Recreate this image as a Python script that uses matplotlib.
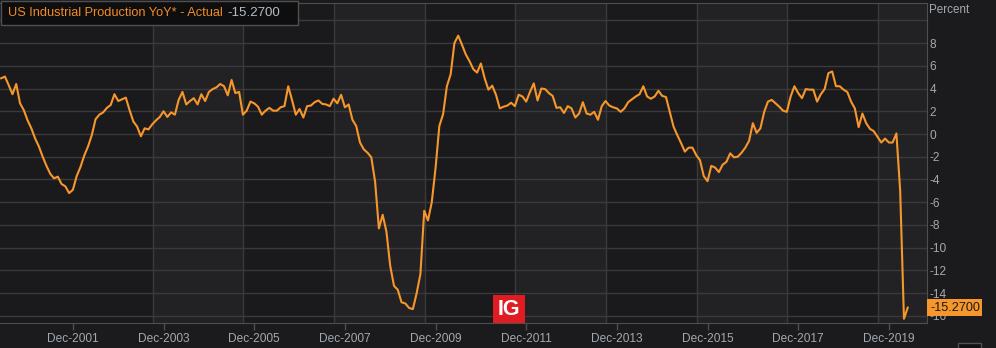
"""US industrial production YoY, dark terminal-style chart."""

import matplotlib
matplotlib.use("Agg")
import matplotlib.pyplot as plt
from matplotlib.patches import Rectangle
import numpy as np

# ── Data: monthly YoY %, May 2000 .. May 2020 ─────────────────────────
START_YEAR, START_MONTH = 2000, 5
yoy = [
    4.9, 5.05, 4.3, 3.5, 4.4, 2.7, 2.1, 1.2, 0.5, -0.4,
    -1.1, -2.0, -2.8, -3.5, -3.9, -3.75, -4.4, -4.6, -5.2, -4.9,
    -3.7, -2.9, -1.9, -1.1, -0.1, 1.3, 1.7, 1.9, 2.3, 2.55,
    3.5, 2.9, 3.05, 3.2, 2.1, 1.1, 0.65, -0.2, 0.5, 0.4,
    0.85, 1.2, 1.5, 2.0, 1.5, 1.9, 1.7, 3.0, 3.7, 2.6,
    2.9, 3.15, 2.6, 3.5, 2.9, 3.7, 3.95, 4.1, 4.4, 4.2,
    3.4, 4.75, 3.6, 3.7, 1.7, 2.05, 2.85, 2.7, 2.4, 1.7,
    2.05, 2.3, 2.05, 2.05, 2.35, 2.45, 4.2, 3.0, 1.7, 2.2,
    1.45, 2.45, 2.5, 2.8, 2.95, 2.65, 2.6, 2.45, 3.1, 2.7,
    3.45, 2.35, 2.6, 1.25, 0.7, -0.75, -1.35, -1.65, -2.05, -4.2,
    -8.3, -7.1, -8.6, -11.6, -13.35, -13.7, -14.8, -14.9, -15.3, -15.4,
    -14.0, -12.3, -6.75, -7.6, -6.0, -3.0, 0.7, 1.75, 4.2, 5.25,
    8.0, 8.65, 7.85, 7.0, 6.4, 5.7, 5.4, 6.2, 4.9, 3.9,
    4.25, 3.45, 2.25, 2.4, 2.5, 2.75, 2.45, 3.45, 3.3, 2.85,
    3.7, 4.45, 2.95, 4.0, 3.95, 3.6, 3.35, 2.3, 2.35, 1.85,
    2.45, 2.25, 1.45, 1.8, 2.8, 1.8, 1.7, 1.95, 1.25, 2.45,
    2.9, 2.5, 2.35, 2.25, 1.95, 2.25, 2.8, 3.05, 3.3, 3.5,
    4.2, 3.3, 3.1, 3.3, 3.8, 3.35, 3.25, 1.95, 0.65, -0.1,
    -0.8, -1.55, -1.2, -1.2, -1.85, -2.3, -3.7, -4.15, -2.8, -2.95,
    -3.35, -2.7, -2.45, -1.7, -2.05, -2.0, -1.65, -1.2, -0.6, 0.95,
    0.1, 0.5, 1.95, 2.85, 3.0, 2.7, 2.4, 2.05, 1.95, 3.3,
    4.2, 3.6, 3.15, 3.95, 3.9, 3.9, 2.85, 3.5, 3.95, 5.35,
    5.5, 4.2, 4.2, 3.9, 3.7, 2.85, 2.25, 0.6, 1.8, 0.95,
    0.45, 0.25, -0.25, -0.75, -0.4, -0.75, -0.75, 0.05, -5.0, -16.25,
    -15.27,
]
tick_years = [2001, 2003, 2005, 2007, 2009, 2011, 2013, 2015, 2017, 2019]
tick_labels = [f"Dec-{y}" for y in tick_years]
y_ticks = [8, 6, 4, 2, 0, -2, -4, -6, -8, -10, -12, -14, -16]
series_name = "US Industrial Production YoY* - Actual"
last_value = yoy[-1]

# ── Style ─────────────────────────────────────────────────────────────
W, H = 996, 348
BG = "#1b1b1d"
BAND_DARK = "#1a1a1c"
BAND_LIGHT = "#222224"
GRID = "#3a3a3c"
SPINE = "#4e4e50"
LINE = "#f7962a"
TXT = "#a3a9b0"
FONT = "Liberation Sans"


def px(x, y, w=0, h=0):
    """Pixel box (top-left origin) -> figure fraction (x, y, w, h)."""
    return x / W, 1 - (y + h) / H, w / W, h / H


months = np.arange(len(yoy))
tick_pos = [(y - START_YEAR) * 12 + 12 - START_MONTH for y in tick_years]
# vertical grid sits ~3 months before each label, first one skipped
grid_pos = [t - 2.9 for t in tick_pos[1:]]

fig = plt.figure(figsize=(W / 100, H / 100), dpi=100, facecolor=BG)
ax = fig.add_axes(px(0, 3, 927, 320))
ax.set_facecolor(BAND_DARK)

# alternating vertical bands between the 2-year grid lines
edges = grid_pos + [260]
for k in range(0, len(edges) - 1, 2):
    ax.axvspan(edges[k], edges[k + 1], color=BAND_LIGHT, lw=0, zorder=0)
for g in grid_pos:
    ax.axvline(g, color=GRID, lw=1, zorder=1)
for v in y_ticks + [10]:
    ax.axhline(v, color=GRID, lw=1, zorder=1)

ax.plot(months, yoy, color=LINE, lw=1.5, zorder=3, solid_joinstyle="round")

ax.set_xlim(-0.3, 245.1)
ax.set_ylim(-16.62, 11.52)

ax.set_xticks(tick_pos, tick_labels)
ax.set_yticks(y_ticks, [str(v) for v in y_ticks])
ax.yaxis.tick_right()
ax.tick_params(axis="x", length=5, width=1, color=SPINE, labelcolor=TXT,
               pad=2.5, labelsize=8.6)
ax.tick_params(axis="y", length=0, labelcolor=TXT, pad=2, labelsize=8.6)
for lab in ax.get_xticklabels() + ax.get_yticklabels():
    lab.set_fontfamily(FONT)
for side in ("top", "right", "bottom"):
    ax.spines[side].set_color(SPINE)
ax.spines["left"].set_visible(False)

# last value tag on the right axis
ax.annotate(f"{last_value:.4f}", xy=(1, last_value),
            xycoords=("axes fraction", "data"), xytext=(3, 0),
            textcoords="offset pixels", va="center", ha="left",
            fontsize=9.1, family=FONT, color="#1a1a1a", zorder=5,
            annotation_clip=False,
            bbox=dict(boxstyle="square,pad=0.2", fc=LINE, ec="none"))

fig.text(929 / W, 1 - 10 / H, "Percent", color=TXT, fontsize=8.4,
         family=FONT, va="center", ha="left")

# legend box top-left
fig.patches.append(Rectangle(px(1, 1, 297, 24)[:2], 297 / W, 24 / H,
                             transform=fig.transFigure, fc="#0e0e0f",
                             ec="#505052", lw=1, zorder=4))
t1 = fig.text(8 / W, 1 - 13.5 / H, series_name, color="#f28c28",
              fontsize=9.2, family=FONT, va="center", ha="left", zorder=5)
bb = t1.get_window_extent(renderer=fig.canvas.get_renderer())
fig.text((bb.x1 + 5) / W, 1 - 13.5 / H, f"{last_value:.4f}",
         color="#b4bcc6", fontsize=9.6, family=FONT, va="center",
         ha="left", zorder=5)

# IG badge
fig.patches.append(Rectangle(px(493, 295, 32, 28)[:2], 32 / W, 28 / H,
                             transform=fig.transFigure, fc="#e01b22",
                             ec="none", zorder=4))
fig.text(509 / W, 1 - 309.5 / H, "IG", color="white", fontsize=15.5,
         fontweight="bold", family=FONT, ha="center", va="center", zorder=5)

# small control box bottom right
fig.patches.append(Rectangle(px(958, 343, 23, 8)[:2], 23 / W, 8 / H,
                             transform=fig.transFigure, fc="#111112",
                             ec="#505052", lw=1, zorder=4))

fig.savefig("out.png", dpi=100, facecolor=BG)
plt.close(fig)
